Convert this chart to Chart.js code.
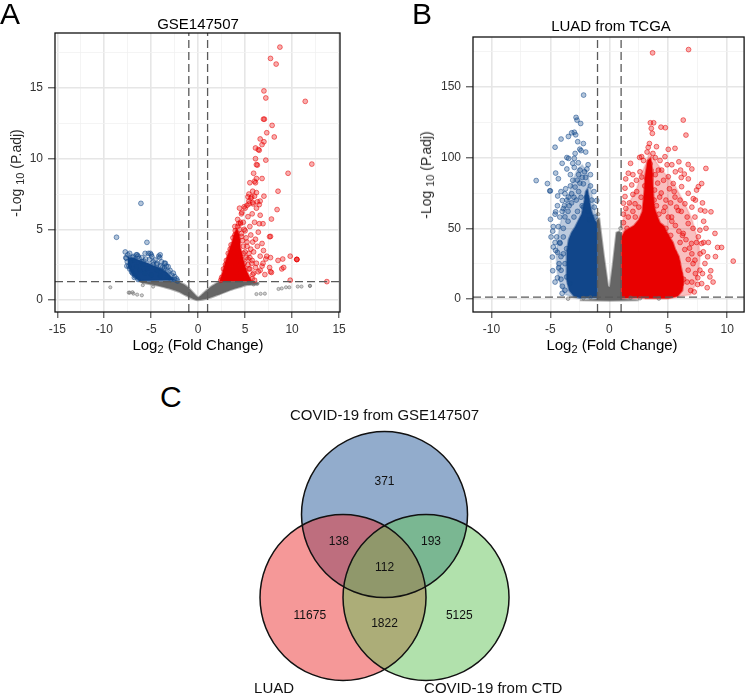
<!DOCTYPE html>
<html>
<head>
<meta charset="utf-8">
<script src="https://cdn.jsdelivr.net/npm/chart.js@4.4.1/dist/chart.umd.min.js"></script>
<style>
  body { margin: 0; background: #fff; font-family: "Liberation Sans", Arial, sans-serif; }
  #wrap { position: relative; width: 749px; height: 697px; overflow: hidden; }
  canvas { position: absolute; }
  .lbl { position: absolute; white-space: nowrap; color: #000; line-height: 1; }
  .panel { font-size: 30px; line-height: 30px; }
  .ttl { font-size: 15px; transform: translateX(-50%); }
  .ytl { font-size: 14px; color: #2a2a2a; transform: translate(-50%, -50%) rotate(-90deg); }
  .ttl sub, .ytl sub { font-size: 11px; vertical-align: -3px; line-height: 0; }
</style>
</head>
<body>
<div id="wrap">
  <canvas id="volA" width="375" height="340" style="left:0;top:0"></canvas>
  <canvas id="volB" width="374" height="340" style="left:375px;top:0"></canvas>
  <canvas id="venn" width="400" height="302" style="left:200px;top:395px"></canvas>

  <div class="lbl panel" style="left:0;top:-1px">A</div>
  <div class="lbl panel" style="left:412px;top:-1px">B</div>
  <div class="lbl panel" style="left:160px;top:382px">C</div>

  <div class="lbl ttl" style="left:198px;top:16px">GSE147507</div>
  <div class="lbl ttl" style="left:611px;top:18px">LUAD from TCGA</div>

  <div class="lbl ttl" style="left:198px;top:337px">Log<sub>2</sub> (Fold Change)</div>
  <div class="lbl ttl" style="left:612px;top:337px">Log<sub>2</sub> (Fold Change)</div>
  <div class="lbl ytl" style="left:16px;top:173px">-Log <sub>10</sub> (P.adj)</div>
  <div class="lbl ytl" style="left:426px;top:175px">-Log <sub>10</sub> (P.adj)</div>
</div>

<script>
// ---- thresholds used for the dashed cut-off lines
const logFcCutoff = 1;
const padjCutoff = 0.05;

// ---- Panel A : GSE147507  [log2FC, -log10 padj]
const gseXTicks = [-15, -10, -5, 0, 5, 10, 15];
const gseYTicks = [0, 5, 10, 15];

const gseUp = [
  [8.7,17.9],[7.7,17.1],[8.3,16.7],[7.0,14.8],[7.2,14.3],[11.4,14.06],[6.95,12.8],[7.05,12.8],
  [7.87,12.36],[7.3,11.84],[8.1,11.54],[6.6,11.4],[7.0,11.2],[6.8,11.0],[6.1,10.76],[6.4,10.65],
  [6.5,10.6],[6.1,10.0],[7.2,9.9],[6.2,9.58],[6.3,9.55],[12.1,9.62],[9.57,8.97],[5.9,8.97],
  [6.2,8.6],[6.8,8.6],[6.0,8.4],[6.1,8.3],[8.5,7.7],[5.8,7.7],[6.2,7.6],[6.0,7.35],[7.0,7.35],
  [5.3,7.3],[5.6,7.2],[6.6,7.0],[6.3,6.95],[5.8,6.9],[6.5,6.75],[5.4,6.8],[8.4,6.4],[5.0,6.5],
  [4.65,6.2],[5.2,6.7],[5.4,7.0],[5.7,7.3],[5.85,6.8],[6.2,6.5],[5.75,6.1],[5.3,5.9],[4.8,5.5],
  [6.0,5.5],[6.5,5.4],[6.9,5.4],[5.5,5.2],[4.5,5.4],[5.0,4.9],[6.6,6.0],[7.8,5.73],[7.6,4.48],
  [7.7,4.5],[6.8,4.0],[6.3,3.8],[6.95,3.5],[5.9,3.4],[6.6,3.1],[7.3,3.1],[5.75,2.8],[6.2,2.6],
  [6.9,2.6],[7.6,2.3],[5.4,2.2],[5.9,1.9],[6.6,2.1],[7.1,1.8],[5.0,1.6],[5.75,1.5],[4.5,1.8],
  [4.3,2.6],[4.0,3.5],[9.8,3.1],[10.5,2.87],[10.5,2.87],[10.5,2.87],[9.0,2.9],[8.5,2.8],
  [7.7,3.0],[9.1,2.3],[8.9,2.2],[7.7,2.0],[7.8,1.95],[9.8,1.4],[13.7,1.3],[4.5,5.5],[4.6,6.1],
  [4.9,6.6],[5.4,7.5],[5.5,8.3],[5.1,4.4],[5.6,4.6],[5.2,3.8],[4.8,3.3],[5.5,3.0],[4.9,2.6],
  [5.3,2.9],[6.1,4.3],[5.8,4.1],[4.6,4.5],[4.2,5.7],[4.4,6.5],[3.9,5.2],[6.4,4.8],[5.6,3.6],
  [6.8,2.4],[7.2,2.9],[6.4,2.0],[5.2,1.5],[4.7,2.2],
  [2.5,1.6],[2.7,2.2],[3.0,2.8],[3.2,3.3],[3.5,3.9],[3.7,4.4],[3.95,4.9],[4.2,5.2],[4.4,5.0],
  [4.6,4.7],[4.7,4.2],[4.8,3.8],[5.0,3.4],[5.1,3.0],[5.3,2.5],[5.5,2.2],[5.8,1.8],[6.0,1.4],
  [4.0,4.0],[3.8,3.5],[4.2,3.0],[3.5,2.5],[3.0,2.0],[4.0,2.0],[4.5,2.5],[3.3,3.0],[2.4,1.4],
  [2.9,2.5],[3.4,3.6],[3.9,4.6],[4.3,5.4],[4.9,5.0],[5.2,4.1],[5.4,3.3],[5.7,2.6],[6.1,2.3]
];
const gseDown = [
  [-6.1,6.84],[-8.7,4.44],[-5.46,4.08],[-7.77,3.4],[-7.5,3.2],[-7.66,2.95],[-7.2,2.7],[-7.4,2.4],
  [-6.9,3.07],[-6.5,3.2],[-6.3,2.95],[-6.0,2.7],[-5.65,3.3],[-5.1,3.3],[-4.93,3.07],[-4.6,2.83],
  [-4.05,3.2],[-3.9,2.7],[-3.5,2.6],[-3.2,2.36],[-3.7,2.1],[-3.0,2.1],[-2.65,1.9],[-2.5,1.65],
  [-4.4,2.1],[-5.4,2.24],[-6.6,2.36],[-6.2,2.1],[-5.7,1.9],[-5.0,1.77],[-4.05,1.7],[-3.3,1.6],
  [-5.3,3.3],[-5.0,3.2],[-4.1,3.0],[-4.2,3.1],[-7.6,2.4],[-3.6,2.6],[-3.4,2.4],[-3.8,2.3],
  [-6.6,3.2],[-6.4,3.1],[-2.3,1.5],[-7.3,3.3],[-7.0,1.9],[-6.8,1.6],[-5.9,2.5],[-4.8,2.5],
  [-4.4,2.6],[-2.9,1.45],[-2.2,1.35],
  [-7.7,3.0],[-7.55,2.7],[-7.3,2.2],[-7.1,2.0],[-6.7,1.7],[-6.4,1.45],[-7.0,3.0],[-6.0,3.0],
  [-5.6,2.9],[-5.2,2.85],[-4.8,2.7],[-4.4,2.5],[-4.0,2.4],[-3.6,2.25],[-3.2,2.0],[-2.8,1.75],
  [-2.5,1.45],[-6.8,2.8],[-5.8,2.75]
];
const gseNs = [
  [-9.36,0.9],[-7.4,0.52],[-7.3,0.52],[-7.0,0.55],[-6.9,0.45],[-6.5,0.38],[-6.0,0.33],
  [6.2,0.42],[6.65,0.44],[7.1,0.45],[8.55,0.78],[8.9,0.82],[9.35,0.9],[9.7,0.9],[10.6,0.95],
  [11.0,0.95],[11.9,1.0],[11.9,1.0],[-5.9,1.05],[-4.8,0.95],[5.9,1.1],[6.3,1.15]
];
// dense cores, traced from the overplotted areas
const gseNsCore = [
  [-6.2,1.3],[-2.2,1.3],[-1.5,1.1],[-1.0,0.85],[-0.5,0.5],[0,0.2],[0.5,0.45],[1.0,0.75],
  [1.6,1.05],[2.3,1.3],[5.7,1.3],[6.4,1.2],[6.3,1.1],[5.1,1.05],[4.4,0.9],[3.35,0.68],[2.0,0.33],
  [1.0,0.1],[0,-0.02],[-0.5,0.06],[-1.35,0.33],[-2.0,0.57],[-3.7,0.92],[-5.4,1.15],[-6.0,1.2]
];
const gseDownCore = [
  [-7.5,3.05],[-6.8,2.95],[-6.4,2.85],[-5.8,2.7],[-5.3,2.6],[-4.8,2.45],[-4.2,2.3],[-3.7,2.1],
  [-3.3,1.95],[-2.9,1.65],[-2.5,1.4],[-6.3,1.35],[-7.0,1.75],[-7.5,2.4]
];
const gseUpCore = [
  [2.3,1.32],[2.6,2.0],[2.85,2.6],[3.1,3.1],[3.35,3.6],[3.6,4.1],[3.85,4.7],[4.05,5.0],[4.3,4.8],
  [4.45,4.3],[4.5,3.7],[4.7,3.2],[4.9,2.6],[5.2,2.0],[5.5,1.6],[5.7,1.32]
];

// ---- Panel B : LUAD from TCGA
const tcgaXTicks = [-10, -5, 0, 5, 10];
const tcgaYTicks = [0, 50, 100, 150];

const tcgaUp = [
  [3.67,174.2],[6.72,176.5],[6.27,126.6],[6.5,116],[3.48,124.7],[3.76,124.7],[3.56,120.7],
  [3.65,117.2],[4.38,121.6],[4.75,121.2],[8.19,92.4],[8.62,61.7],[8.11,62.2],[7.74,62.9],
  [8.96,46.4],[9.18,36.5],[9.52,36.5],[10.51,26.8],[7.49,10.3],[7.97,33.4],[8.34,29.9],
  [7.83,39.3],[7.55,44],[5.9,97.1],[6.69,95.2],[6.04,91.2],[6.36,88.4],[7.4,77.1],[7.55,79.5],
  [5.57,106.6],[5.0,105.9],[4.0,107.8],[3.3,107.3],[2.74,100.7],[2.57,100.2],[1.61,89],[1.39,85],
  [1.33,78.4],[1.33,72.5],[1.19,67.8],[1.9,80.7],[2.32,76],[4.72,100.7],[4.44,91.2],[5.0,86.5],
  [5.42,81.7],[6.13,79.5],[6.69,74.8],[7.12,71],[6.41,67.4],[5.85,62.6],[7.26,58],[5.28,58],
  [6.69,53.4],[7.68,48.7],[6.27,46.4],[6.97,39.3],[7.26,27.5],[7.68,20.4],[6.69,20.4],[8.11,25.1],
  [8.53,15.6],[7.83,10.9],[6.13,10.9],[3.84,77.1],[4.27,72.1],[5.57,72.1],[2.18,67.4],[2.74,86.3],
  [3.45,95.7],[4.16,91.2],[1.61,58],[4.72,65],[7.83,81.7],[3.2,104],[3.4,110],[3.9,100],[2.0,62],
  [1.2,60],[5.3,95],[6.0,70],[7.0,65],[8.0,55],[7.9,18],[8.3,8],[7.2,5],
  [4.2,60],[4.6,62],[5.0,58],[5.3,55],[5.6,52],[5.9,48],[6.2,45],[6.5,42],[6.8,36],[7.0,32],
  [7.1,25],[7.3,18],[7.0,12],[6.9,6],[6.7,28],[6.4,35],[6.0,40],[5.7,65],[5.2,68],[4.8,70],
  [4.4,75],[4.1,82],[3.9,88],[4.6,84],[5.1,78],[5.5,76],[6.1,62],[6.6,58],[7.1,50],[7.4,40],
  [7.7,32],[7.5,15],[8.0,40],[8.2,50],[7.9,68],[7.3,70],[6.7,85],[6.1,86],[5.6,90],[4.9,95],
  [4.3,98],[3.7,103],[2.9,98],[2.6,90],[2.3,84],[2.0,74],[1.7,68],[1.4,64],[1.2,54],[1.5,50],
  [2.2,58],[2.5,65],[2.7,72],[3.0,80],[3.2,85],[3.5,88],[3.8,70],[4.0,66],[2.0,88],[1.8,96],
  [6.3,14],[6.0,18],[8.6,20],[8.8,12],[9.0,30],[8.4,40],[7.0,92],
  [5.8,26],[6.0,8],[5.5,33],[5.2,45],[4.8,50],[6.6,12]
];
const tcgaDown = [
  [-2.18,144.3],[-2.82,128.5],[-2.74,126.6],[-2.43,124.2],[-2.97,118],[-3.19,117.6],[-3.47,115],
  [-2.85,116.2],[-2.68,111.3],[-4.09,113.2],[-4.6,107.4],[-3.6,100.1],[-3.45,99.5],[-2.97,99.5],
  [-2.63,96.4],[-2.97,93.1],[-2.48,91.2],[-2.71,84.1],[-6.2,83.8],[-5.25,81.7],[-5.05,76.5],
  [-5.0,76.5],[-4.55,89.1],[-4.32,85.1],[-4.38,72.9],[-3.76,74.5],[-3.98,69.7],[-3.47,72.1],
  [-3.19,74.5],[-2.9,79.2],[-2.2,81.5],[-1.92,72.1],[-2.2,65],[-1.27,65],[-1.07,69.7],
  [-4.99,56.4],[-4.55,61.7],[-4.32,51.2],[-4.94,43.9],[-4.75,36.8],[-4.83,29.7],[-4.55,34.4],
  [-4.26,25],[-4.09,20.3],[-3.98,9],[-4.46,43.9],[-3.76,58.1],[-3.9,43.9],[-3.62,35.6],
  [-3.76,25],[-3.62,15.6],[-3.33,10.9],[-3.76,6.2],[-4.75,51.2],[-4.18,39.4],[-1.6,88],[-1.8,95],
  [-2.4,105],[-3.9,64],[-4.1,30],[-4.4,15],
  [-4.2,58],[-4.0,62],[-3.8,66],[-3.6,70],[-3.4,66],[-3.2,68],[-3.0,72],[-2.8,70],[-2.6,76],
  [-2.5,82],[-2.3,86],[-2.1,90],[-2.0,86],[-1.9,92],[-2.6,88],[-3.1,84],[-3.3,80],[-3.7,78],
  [-4.1,76],[-4.4,66],[-4.6,60],[-4.8,48],[-4.6,40],[-4.4,33],[-4.3,22],[-4.1,14],[-3.9,50],
  [-3.5,55],[-3.0,58],[-2.7,62],[-2.3,66],[-1.8,62],[-1.5,70],[-1.3,76],[-1.2,58],[-1.7,56],
  [-2.0,104],[-2.2,110],[-2.5,106],[-2.9,103],[-3.1,96],[-3.6,92],[-3.3,88],[-4.0,96],
  [-4.8,20],[-4.6,12],[-4.0,4],[-3.9,32],[-4.2,40],[-3.5,62],[-2.4,72],[-1.6,80]
];
const tcgaNs = [
  [-1.6,1.0],[-2.2,0.6],[1.8,0.9],[2.6,0.5],[4.2,0.3],[-3.5,0.2],[-0.95,60],[0.95,50]
];
const tcgaNsCore = [
  [-1.0,0],[-1.0,57],[-0.85,57],[-0.72,48],[-0.45,30],[-0.1,9],[0.05,8.5],[0.3,25],[0.6,47],
  [0.85,48],[1.0,46],[1.0,0],[2.5,-0.8],[0,-1.2],[-2.5,-0.8]
];
const tcgaDownHalo = [
  [-1.05,56],[-1.3,66],[-1.6,80],[-1.9,90],[-2.3,95],[-2.7,92],[-3.0,86],[-3.3,78],[-3.6,70],
  [-3.9,62],[-4.2,52],[-4.4,42],[-4.5,30],[-4.4,18],[-4.1,8],[-3.7,3],[-2.8,0.5],[-1.05,0.5]
];
const tcgaDownCore = [
  [-1.05,0.5],[-1.05,54],[-1.25,56],[-1.5,62],[-1.7,70],[-1.85,78],[-2.0,76],[-2.15,68],
  [-2.35,60],[-2.6,56],[-2.9,51],[-3.2,47],[-3.45,42],[-3.6,34],[-3.65,24],[-3.6,14],[-3.4,6],
  [-3.0,2],[-2.4,0.5]
];
const tcgaUpHalo = [
  [1.05,50],[1.3,62],[1.8,70],[2.3,78],[2.7,88],[3.1,96],[3.4,104],[3.9,98],[4.4,92],[5.0,86],
  [5.6,80],[6.1,72],[6.6,64],[7.0,57],[7.3,48],[7.6,40],[7.7,30],[7.6,20],[7.3,10],[6.9,3],
  [5,0.4],[1.05,0.4]
];
const tcgaUpCore = [
  [1.05,0.5],[1.05,44],[1.3,48],[1.7,50],[2.1,52],[2.5,56],[2.8,62],[2.95,75],[3.05,88],
  [3.25,98],[3.5,100],[3.65,92],[3.7,80],[3.8,66],[4.0,60],[4.3,54],[4.6,52],[4.9,47],[5.1,44],
  [5.4,40],[5.6,35],[5.9,30],[6.1,22],[6.3,14],[6.2,6],[5.8,2],[5.0,0.5],[3,0.5]
];

// ---- Panel C : Venn
const vennSets = ['COVID-19 from GSE147507', 'LUAD', 'COVID-19 from CTD'];
const vennRegions = ['GSE only', 'GSE+LUAD', 'GSE+CTD', 'all', 'LUAD only', 'LUAD+CTD', 'CTD only'];
const vennCounts = [371, 138, 193, 112, 11675, 1822, 5125];

Chart.defaults.font.family = '"Liberation Sans", Arial, sans-serif';
Chart.defaults.color = '#333';

const RED = '232,0,0', BLUE = '17,70,138', GREY = '102,102,102';
const toPts = arr => arr.map(([x, y]) => ({x, y}));

const frame = {
  id: 'frame',
  afterDatasetsDraw(chart) {
    const {ctx, chartArea: a} = chart;
    ctx.save();
    ctx.strokeStyle = '#111';
    ctx.lineWidth = 1.3;
    ctx.strokeRect(a.left, a.top, a.right - a.left, a.bottom - a.top);
    ctx.restore();
  }
};

function withMinors(majors, min, max) {
  const step = majors[1] - majors[0];
  const all = majors.slice();
  for (let i = -1; i < majors.length; i++) {
    const v = (i < 0 ? majors[0] - step : majors[i]) + step / 2;
    if (v >= min && v <= max) all.push(v);
  }
  return all.sort((a, b) => a - b);
}

function axis(majors, min, max, fitSize, isX) {
  const all = withMinors(majors, min, max);
  const isMajor = v => majors.includes(v);
  return {
    type: 'linear', min, max,
    afterBuildTicks: s => { s.ticks = all.map(v => ({value: v})); },
    afterFit: s => { if (isX) s.height = fitSize; else s.width = fitSize; },
    border: {display: false},
    grid: {
      color: c => isMajor(c.tick.value) ? '#e6e6e6' : '#f1f1f1',
      lineWidth: c => isMajor(c.tick.value) ? 1.6 : 0.8,
      tickColor: c => isMajor(c.tick.value) ? '#333' : 'rgba(0,0,0,0)',
      tickLength: isX ? 6 : 7,
      tickWidth: 1
    },
    ticks: {
      autoSkip: false, maxRotation: 0, padding: isX ? 4 : 5,
      font: {size: 12}, color: '#333',
      callback: v => isMajor(v) ? String(v) : ''
    }
  };
}

function pointSet(arr, rgb, r, order) {
  return {
    data: toPts(arr), order,
    pointRadius: r,
    pointBackgroundColor: `rgba(${rgb},0.32)`,
    pointBorderColor: `rgba(${rgb},0.6)`,
    pointBorderWidth: 0.9
  };
}

function cloud(arr, rgb, alpha, order, tension) {
  return {
    type: 'line', data: toPts(arr), order,
    fill: 'shape', tension: tension || 0,
    backgroundColor: `rgba(${rgb},${alpha})`,
    borderColor: `rgba(${rgb},${alpha * 0.5})`,
    borderWidth: 2, pointRadius: 0
  };
}

function cutLines(xr, yr) {
  const h = -Math.log10(padjCutoff);
  const style = {type: 'line', order: 0, borderColor: '#5a5a5a', borderWidth: 1.3,
                 borderDash: [8, 4], pointRadius: 0, fill: false};
  return [
    Object.assign({data: [{x: -logFcCutoff, y: yr[0]}, {x: -logFcCutoff, y: yr[1]}]}, style),
    Object.assign({data: [{x: logFcCutoff, y: yr[0]}, {x: logFcCutoff, y: yr[1]}]}, style),
    Object.assign({data: [{x: xr[0], y: h}, {x: xr[1], y: h}]}, style)
  ];
}

function volcano(id, o) {
  new Chart(document.getElementById(id), {
    type: 'scatter',
    data: {datasets: o.datasets.concat(cutLines(o.xr, o.yr))},
    options: {
      responsive: false, animation: false, events: [],
      layout: {padding: o.padding},
      plugins: {legend: {display: false}, tooltip: {enabled: false}},
      scales: {
        x: axis(o.xTicks, o.xr[0], o.xr[1], 28, true),
        y: axis(o.yTicks, o.yr[0], o.yr[1], o.yWidth, false)
      }
    },
    plugins: [frame]
  });
}

volcano('volA', {
  xr: [-15.25, 15.1], yr: [-0.85, 18.9], xTicks: gseXTicks, yTicks: gseYTicks,
  yWidth: 55, padding: {top: 33, right: 35, bottom: 0, left: 0},
  datasets: [
    cloud(gseNsCore, GREY, 1, 9, 0.2),
    cloud(gseDownCore, BLUE, 1, 8),
    cloud(gseUpCore, RED, 1, 8),
    pointSet(gseNs, '110,110,110', 1.6, 4),
    pointSet(gseDown, BLUE, 2.4, 3),
    pointSet(gseUp, RED, 2.4, 2)
  ]
});

volcano('volB', {
  xr: [-11.56, 11.43], yr: [-9.2, 185.4], xTicks: tcgaXTicks, yTicks: tcgaYTicks,
  yWidth: 98, padding: {top: 37, right: 3, bottom: 0, left: 0},
  datasets: [
    cloud(tcgaDownHalo, BLUE, 0.28, 10),
    cloud(tcgaUpHalo, RED, 0.25, 10),
    cloud(tcgaNsCore, GREY, 1, 9),
    cloud(tcgaDownCore, BLUE, 1, 8),
    cloud(tcgaUpCore, RED, 1, 8),
    pointSet(tcgaNs, GREY, 1.8, 4),
    pointSet(tcgaDown, BLUE, 2.4, 3),
    pointSet(tcgaUp, RED, 2.4, 2)
  ]
});

// ---- Venn: three equal circles, unit = circle radius
const vennLayout = {
  centers: [[0, 0.5], [-0.5, -0.5], [0.5, -0.5]],
  fills: ['rgba(37,89,153,0.5)', 'rgba(235,49,49,0.5)', 'rgba(99,195,89,0.5)'],
  setLabelAt: [[0, 1.69], [-1.33, -1.6], [1.31, -1.6]],
  countAt: [[0, 0.89], [-0.55, 0.17], [0.56, 0.17], [0, -0.145], [-0.9, -0.72], [0, -0.81], [0.9, -0.72]]
};
const unitPx = chart => Math.abs(chart.scales.x.getPixelForValue(1) - chart.scales.x.getPixelForValue(0));

const vennText = {
  id: 'vennText',
  afterDatasetsDraw(chart) {
    const {ctx, scales: {x, y}} = chart;
    ctx.save();
    ctx.textAlign = 'center';
    ctx.textBaseline = 'middle';
    ctx.fillStyle = '#111';
    ctx.font = '15px "Liberation Sans", Arial, sans-serif';
    vennSets.forEach((name, i) => {
      const [px, py] = vennLayout.setLabelAt[i];
      ctx.fillText(name, x.getPixelForValue(px), y.getPixelForValue(py));
    });
    ctx.font = '12px "Liberation Sans", Arial, sans-serif';
    vennCounts.forEach((n, i) => {
      const [px, py] = vennLayout.countAt[i];
      ctx.fillText(String(n), x.getPixelForValue(px), y.getPixelForValue(py));
    });
    ctx.restore();
  }
};

const vennDatasets = [];
vennSets.forEach((name, i) => {
  const [cx, cy] = vennLayout.centers[i];
  vennDatasets.push({
    label: name, data: [{x: cx, y: cy}], order: 3 - i, clip: false,
    pointRadius: c => unitPx(c.chart),
    pointBackgroundColor: vennLayout.fills[i], pointBorderWidth: 0
  });
  vennDatasets.push({
    label: name + ' outline', data: [{x: cx, y: cy}], order: 0, clip: false,
    pointRadius: c => unitPx(c.chart),
    pointBackgroundColor: 'rgba(0,0,0,0)', pointBorderColor: '#111', pointBorderWidth: 1.5
  });
});

new Chart(document.getElementById('venn'), {
  type: 'scatter',
  data: {datasets: vennDatasets},
  options: {
    responsive: false, animation: false, events: [],
    layout: {padding: 0},
    plugins: {legend: {display: false}, tooltip: {enabled: false}},
    scales: {
      x: {type: 'linear', min: -2.223, max: 2.596, display: false},
      y: {type: 'linear', min: -1.699, max: 1.940, display: false}
    }
  },
  plugins: [vennText]
});
</script>
</body>
</html>
